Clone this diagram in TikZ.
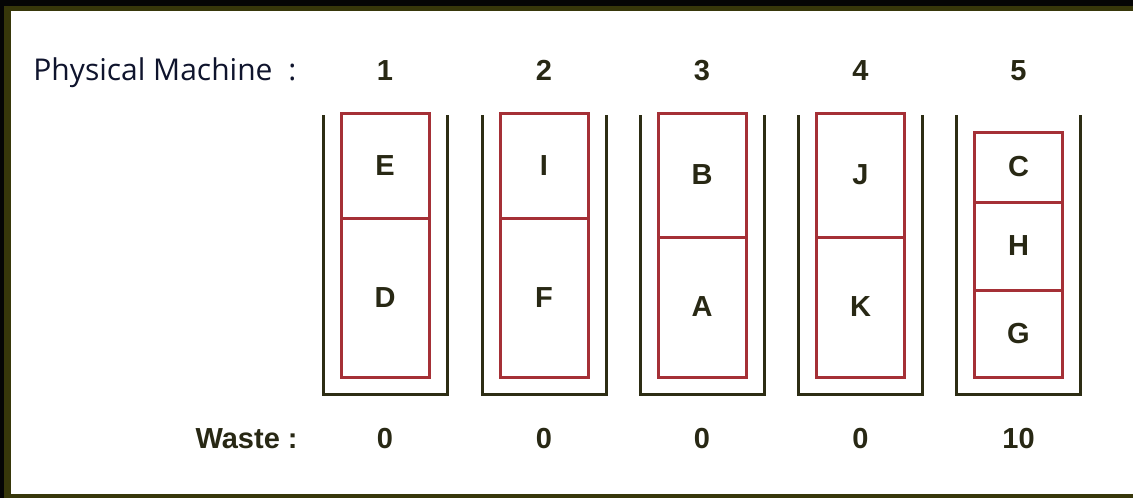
\documentclass[tikz,border=0pt]{standalone}
\usepackage{fontspec}
\setmainfont{Liberation Sans}
\newfontfamily\uifont{Open Sans}
\usetikzlibrary{positioning}
\definecolor{frameblack}{RGB}{5,5,5}
\definecolor{frameolive}{RGB}{55,55,10}
\definecolor{pmline}{RGB}{45,45,20}
\definecolor{vmred}{RGB}{165,48,54}
\definecolor{textdark}{RGB}{40,40,20}
\definecolor{textnavy}{RGB}{15,20,45}
\tikzset{
  vm/.style={
    rectangle, draw=vmred, line width=1.5pt, minimum width=44pt,
    inner sep=0pt, outer sep=0pt, text=textdark,
    font=\bfseries\fontsize{14.5}{16}\selectfont
  },
  pm/.style={draw=pmline, line width=1.5pt},
  tag/.style={font=\bfseries\fontsize{14.5}{16}\selectfont, text=textdark, inner sep=0pt},
}
\begin{document}
\begin{tikzpicture}[x=0.5pt, y=-0.5pt]
  % window frame
  \fill[frameblack] (0,0) rectangle (1133,498);
  \fill[frameolive] (4,6) rectangle (1133,498);
  \fill[white] (11,11) rectangle (1133,494);

  \node[anchor=base west, inner sep=0pt, text=textnavy,
        font=\uifont\fontsize{15}{17}\selectfont] (pmtitle) at (33,80) {Physical Machine\hspace{4pt} :};
  \node[tag, anchor=base east] (wastetitle) at (298,448) {Waste :};

  % machines, their numbers and waste
  \foreach \i/\x/\w in {1/385/0, 2/544/0, 3/702/0, 4/860.5/0, 5/1018.5/10} {
    \node[tag, anchor=base] (pm\i) at (\x,80) {\i};
    \node[tag, anchor=base] (waste\i) at (\x,448) {\w};
    \draw[pm] (\x-62,115) |- (\x+62,394) -- (\x+62,115);
  }

  % virtual machines
  \node[vm, minimum height=52.5pt, anchor=north] (E) at (385,113) {E};
  \node[vm, minimum height=79.5pt, below=0pt of E] (D) {D};

  \node[vm, minimum height=52.5pt, anchor=north] (I) at (544,113) {I};
  \node[vm, minimum height=79.5pt, below=0pt of I] (F) {F};

  \node[vm, minimum height=62pt, anchor=north] (B) at (702,113) {B};
  \node[vm, minimum height=70pt, below=0pt of B] (A) {A};

  \node[vm, minimum height=62pt, anchor=north] (J) at (860.5,113) {J};
  \node[vm, minimum height=70pt, below=0pt of J] (K) {K};

  \node[vm, minimum height=35pt, anchor=north] (C) at (1018.5,132) {C};
  \node[vm, minimum height=44pt, below=0pt of C] (H) {H};
  \node[vm, minimum height=43.5pt, below=0pt of H] (G) {G};
\end{tikzpicture}
\end{document}
